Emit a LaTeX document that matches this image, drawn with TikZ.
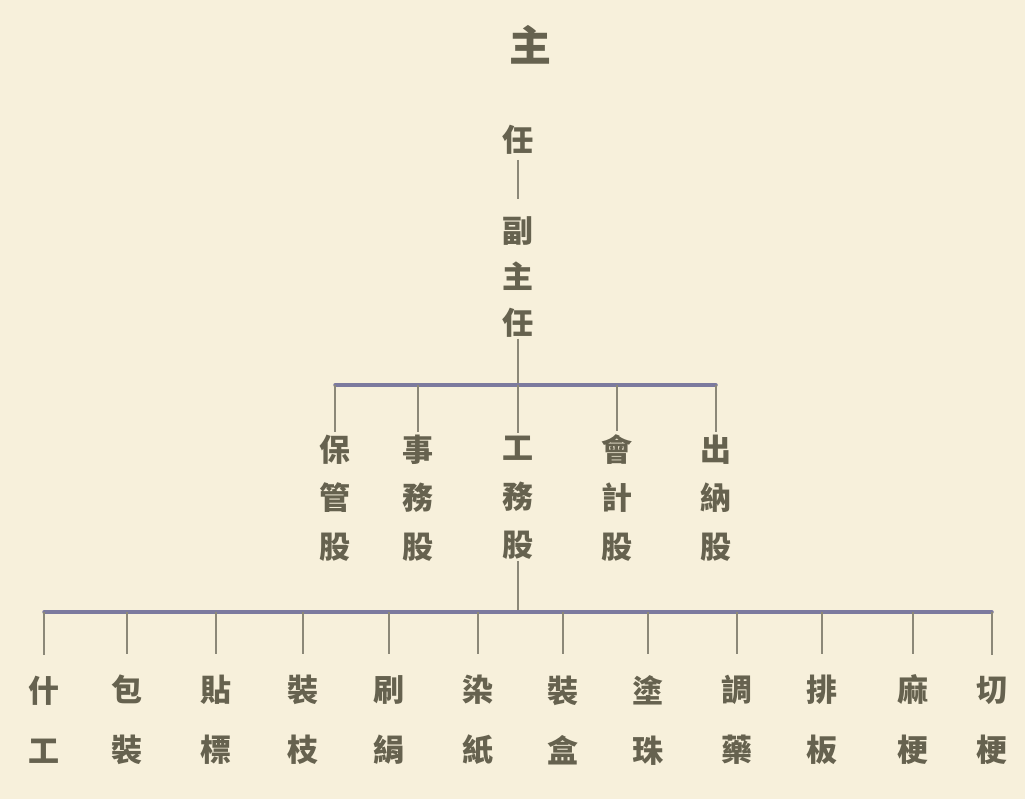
\documentclass[tikz,border=0pt]{standalone}
\usepackage{fontspec}
\setmainfont{Noto Sans CJK TC}
\definecolor{paper}{HTML}{F7F0DB}
\definecolor{ink}{HTML}{66624F}
\definecolor{barc}{HTML}{7C7A9E}
\definecolor{stemc}{HTML}{8C8878}
\begin{document}
\begin{tikzpicture}[x=1pt,y=-1pt,
  hz/.style={text=ink,inner sep=1pt,align=center},
  big/.style={hz,font=\fontsize{42}{42}\selectfont\bfseries},
  vice/.style={hz,font=\fontsize{31}{46}\selectfont\bfseries},
  dept/.style={hz,font=\fontsize{31}{48.5}\selectfont\bfseries},
  work/.style={hz,font=\fontsize{31}{60}\selectfont\bfseries},
  bar/.style={draw=barc,line width=3.5pt,line cap=round},
  stem/.style={draw=stemc,line width=2pt}]
\fill[paper] (0,0) rectangle (1025,799);
\useasboundingbox (0,0) rectangle (1025,799);
% top
\node[big] (zhu) at (530,45) {主};
\node[vice] (ren) at (518,140) {任};
\node[vice] (fzr) at (518,277) {副\\主\\任};
\draw[stem,shorten <=4pt,shorten >=16pt] (ren.south) -- (fzr.north);
% departments
\coordinate (b1) at (518,385);
\node[dept] (d1) at (335,498) {保\\管\\股};
\node[dept] (d2) at (418,498) {事\\務\\股};
\node[dept] (d3) at (518,498) {工\\務\\股};
\node[dept] (d4) at (617,498) {會\\計\\股};
\node[dept] (d5) at (716,498) {出\\納\\股};
\draw[stem] (fzr.south) -- (b1);
\draw[bar] (d1.north |- b1) -- (d5.north |- b1);
\foreach \d in {d1,d2,d3,d4,d5}
  \draw[stem,shorten >=2pt] (\d.north |- b1) -- (\d.north);
% workers
\coordinate (b2) at (518,612);
\node[work] (w1) at (44,720) {什\\工};
\node[work] (w2) at (127,720) {包\\裝};
\node[work] (w3) at (216,720) {貼\\標};
\node[work] (w4) at (303,720) {裝\\枝};
\node[work] (w5) at (389,720) {刷\\絹};
\node[work] (w6) at (478,720) {染\\紙};
\node[work] (w7) at (563,720) {裝\\盒};
\node[work] (w8) at (648,720) {塗\\珠};
\node[work] (w9) at (737,720) {調\\藥};
\node[work] (w10) at (822,720) {排\\板};
\node[work] (w11) at (913,720) {麻\\梗};
\node[work] (w12) at (992,720) {切\\梗};
\draw[stem] (d3.south) -- (b2);
\draw[bar] (w1.north |- b2) -- (w12.north |- b2);
\foreach \w in {w1,w2,w3,w4,w5,w6,w7,w8,w9,w10,w11,w12}
  \draw[stem,shorten >=20pt] (\w.north |- b2) -- (\w.north);
\end{tikzpicture}
\end{document}
